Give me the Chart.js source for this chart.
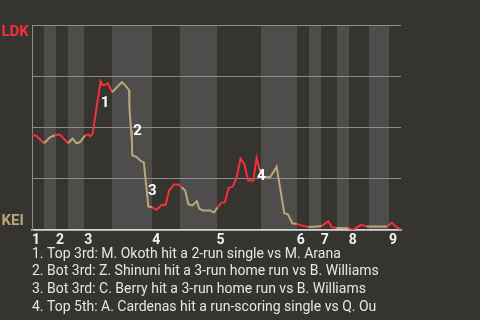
<!DOCTYPE html>
<html>
<head>
<meta charset="utf-8">
<script src="https://cdn.jsdelivr.net/npm/chart.js@4/dist/chart.umd.min.js"></script>
<style>
  html, body { margin: 0; padding: 0; background: #36342f; }
  #wrap { width: 480px; height: 320px; }
</style>
</head>
<body>
<div id="wrap"><canvas id="wp" width="480" height="320"></canvas></div>
<script>
// Plate-appearance index where each half inning begins (top 1st ... top 9th, end of game last)
const halfInningStarts = [0, 3, 6, 9, 13, 20, 30, 37, 46, 57, 66, 69, 72, 76, 79, 84, 89, 92];
const inningLabels = ['1', '2', '3', '4', '5', '6', '7', '8', '9'];

// Game progress (plate appearances) and LDK win probability (%)
const playIndex = [
  0, 1.1, 3.0, 4.5, 5.7, 6.6, 7.0, 9.0, 10.1, 11.1, 12.0, 13.2, 14.0, 14.5, 15.1,
  17.1, 17.6, 18.2, 18.9, 20.0, 21.1, 22.4, 23.2, 24.2, 24.3, 24.7, 24.9, 25.0,
  26.1, 26.9, 27.9, 28.2, 28.6, 29.0, 29.9, 31.1, 32.3, 33.3, 34.2, 35.4, 36.5,
  37.3, 38.2, 39.0, 40.0, 41.1, 41.7, 42.7, 44.4, 45.4, 46.2, 47.1, 48.1, 49.0,
  50.1, 51.0, 52.0, 52.9, 53.9, 55.2, 56.0, 56.7, 57.7, 59.4, 61.0, 62.3, 62.9,
  63.8, 64.9, 66.0, 67.3, 68.9, 71.0, 72.2, 73.9, 74.7, 75.9, 78.9, 80.1, 82.0,
  83.5, 88.5, 89.7, 90.9, 92
];
const ldkWinPct = [
  46.2, 46.0, 42.3, 45.2, 46.2, 46.6, 46.4, 42.3, 44.6, 42.3, 42.9, 46.1, 46.6, 45.7, 46.8,
  72.6, 70.7, 70.7, 71.6, 67.2, 69.5, 72.1, 70.7, 68.2, 59.4, 48.7, 43.8, 36.4,
  35.6, 34.0, 32.9, 26.7, 19.3, 11.5, 11.1, 9.9, 12.2, 12.2, 19.3, 22.2, 22.2,
  20.9, 19.3, 12.5, 12.0, 14.1, 10.4, 9.5, 9.5, 8.6, 10.9, 13.1, 13.6, 20.4,
  21.3, 25.5, 34.8, 32.4, 24.2, 24.2, 35.2, 29.8, 25.8, 25.8, 30.8, 15.3, 8.2,
  7.6, 3.3, 2.9, 2.2, 1.5, 1.7, 2.0, 4.3, 1.4, 1.0, 0.9, 0.2, 2.5,
  1.7, 1.7, 3.5, 1.4, 0.2
];

// Key plays: marker text and where it sits on the chart
const eventMarks = ['1', '2', '3', '4'];
const eventPlay = [18.2, 26.3, 30.0, 57.2];
const eventPct = [62.3, 48.7, 19.3, 26.9];
const eventNotes = [
  '1. Top 3rd: M. Okoth hit a 2-run single vs M. Arana',
  '2. Bot 3rd: Z. Shinuni hit a 3-run home run vs B. Williams',
  '3. Bot 3rd: C. Berry hit a 3-run home run vs B. Williams',
  '4. Top 5th: A. Cardenas hit a run-scoring single vs Q. Ou'
];

const awayTeam = 'LDK';
const homeTeam = 'KEI';

const BG = '#36342f';
const BAND = '#4e4d4b';
const AWAY_COLOR = '#f5303c';
const HOME_COLOR = '#b9a67c';
const FONT = 'Roboto, "Noto Sans", sans-serif';

const inningStarts = halfInningStarts.filter((v, i) => i % 2 === 0 && i < halfInningStarts.length - 1);

function halfIndexAt(x) {
  for (let i = 0; i < halfInningStarts.length - 1; i++) {
    if (x >= halfInningStarts[i] && x < halfInningStarts[i + 1]) return i;
  }
  return halfInningStarts.length - 2;
}

const backdrop = {
  id: 'backdrop',
  beforeDraw(chart) {
    const { ctx, chartArea: a, scales: { x } } = chart;
    ctx.save();
    ctx.fillStyle = BG;
    ctx.fillRect(0, 0, chart.width, chart.height);
    // bottom-half innings get the lighter band
    ctx.fillStyle = BAND;
    for (let i = 1; i < halfInningStarts.length - 1; i += 2) {
      const x0 = Math.round(x.getPixelForValue(halfInningStarts[i]));
      const x1 = Math.round(x.getPixelForValue(halfInningStarts[i + 1]));
      ctx.fillRect(x0, a.top, x1 - x0, a.bottom - a.top);
    }
    ctx.restore();
  },
  afterDraw(chart) {
    const { ctx, chartArea: a, scales: { x, y } } = chart;
    ctx.save();
    // team labels
    ctx.font = 'bold 15px ' + FONT;
    ctx.textAlign = 'left';
    ctx.textBaseline = 'alphabetic';
    ctx.fillStyle = AWAY_COLOR;
    ctx.fillText(awayTeam, 1.5, a.top + 11);
    ctx.fillStyle = HOME_COLOR;
    ctx.fillText(homeTeam, 1.5, a.bottom - 5);

    // key play markers
    ctx.font = 'bold 15px ' + FONT;
    ctx.fillStyle = '#ffffff';
    ctx.textAlign = 'center';
    ctx.textBaseline = 'middle';
    eventMarks.forEach((m, i) => {
      ctx.fillText(m, x.getPixelForValue(eventPlay[i]), y.getPixelForValue(eventPct[i]) + 1);
    });

    // key play notes
    ctx.font = '14px ' + FONT;
    ctx.fillStyle = '#e6e6e6';
    ctx.textAlign = 'left';
    ctx.textBaseline = 'alphabetic';
    eventNotes.forEach((t, i) => {
      ctx.fillText(t, 32, a.bottom + 27.5 + i * 17.7);
    });
    ctx.restore();
  }
};

new Chart(document.getElementById('wp'), {
  type: 'line',
  data: {
    datasets: [{
      data: playIndex.map((v, i) => ({ x: v, y: ldkWinPct[i] })),
      borderWidth: 2,
      pointRadius: 0,
      tension: 0,
      borderColor: AWAY_COLOR,
      segment: {
        borderColor: c => halfIndexAt((c.p0.parsed.x + c.p1.parsed.x) / 2) % 2 === 0 ? AWAY_COLOR : HOME_COLOR
      }
    }]
  },
  options: {
    responsive: false,
    animation: false,
    events: [],
    layout: { padding: { top: 25, right: 79, left: 0, bottom: 0 } },
    plugins: { legend: { display: false }, tooltip: { enabled: false } },
    scales: {
      x: {
        type: 'linear',
        min: 0,
        max: 92,
        afterBuildTicks: s => { s.ticks = inningStarts.map(v => ({ value: v })); },
        afterFit: s => { s.height = 90; },
        grid: { display: false, drawTicks: false },
        border: { display: true, color: '#d4d4d4', width: 1.5 },
        ticks: {
          align: 'start',
          padding: 2,
          maxRotation: 0,
          autoSkip: false,
          color: '#f0f0f0',
          font: { family: FONT, size: 14, weight: 'bold' },
          callback: (v, i) => inningLabels[i]
        }
      },
      y: {
        min: 0,
        max: 100,
        afterFit: s => { s.width = 32; },
        ticks: { display: false, stepSize: 25 },
        grid: { color: '#8c8c8c', lineWidth: 1, drawTicks: false },
        border: { display: true, color: '#8c8c8c', width: 1 }
      }
    }
  },
  plugins: [backdrop]
});
</script>
</body>
</html>
